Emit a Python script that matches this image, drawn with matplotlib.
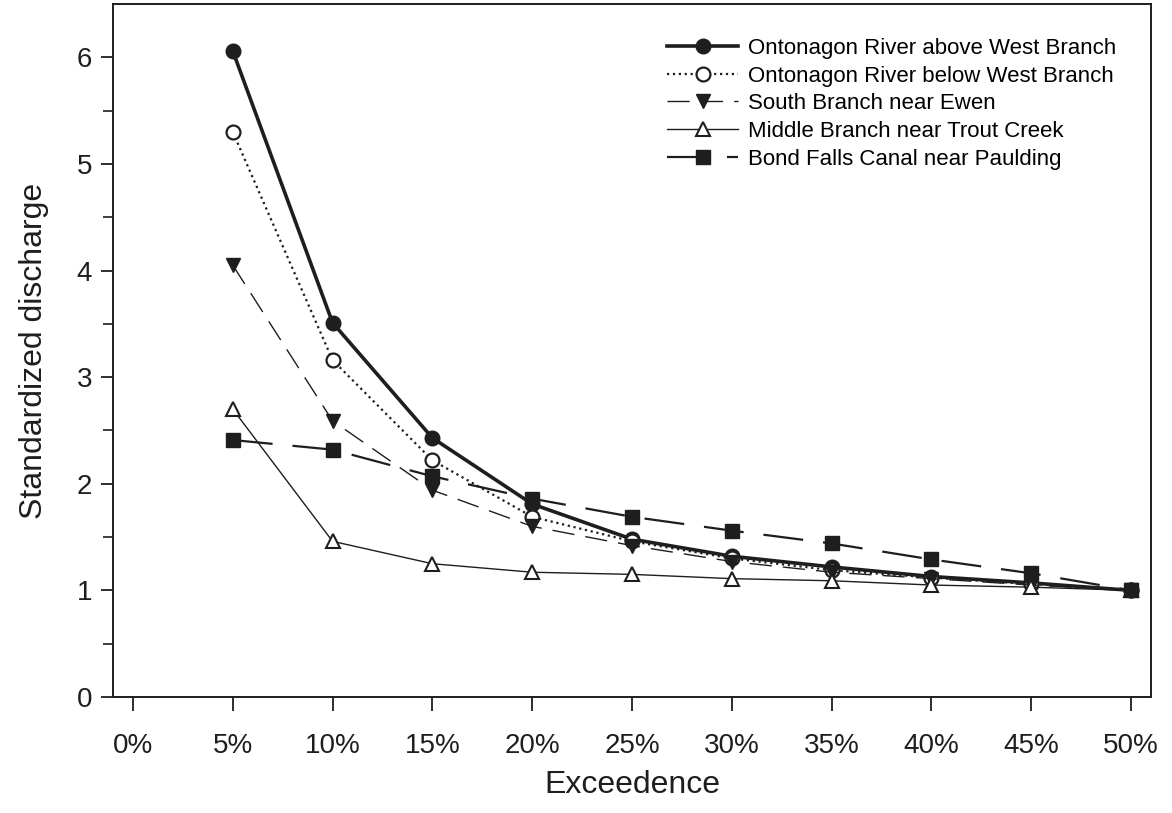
import matplotlib.pyplot as plt
import numpy as np

plt.rcParams['font.family'] = ['Liberation Sans', 'DejaVu Sans']

# Exceedence probability (percent) and standardized discharge per gage
exceedence = [5, 10, 15, 20, 25, 30, 35, 40, 45, 50]
above_west = [6.06, 3.51, 2.43, 1.81, 1.48, 1.32, 1.22, 1.13, 1.07, 1.00]
below_west = [5.30, 3.16, 2.22, 1.69, 1.46, 1.30, 1.19, 1.12, 1.06, 1.00]
south_ewen = [4.05, 2.59, 1.94, 1.60, 1.42, 1.27, 1.17, 1.11, 1.05, 1.00]
middle_trout = [2.70, 1.46, 1.25, 1.17, 1.15, 1.11, 1.09, 1.05, 1.03, 1.00]
bond_falls = [2.41, 2.32, 2.07, 1.86, 1.69, 1.56, 1.44, 1.29, 1.16, 1.00]

series_labels = ['Ontonagon River above West Branch',
                 'Ontonagon River below West Branch',
                 'South Branch near Ewen',
                 'Middle Branch near Trout Creek',
                 'Bond Falls Canal near Paulding']
x_ticks = np.arange(0, 51, 5)
x_tick_labels = [str(v) + '%' for v in x_ticks]

ink = '#1e1e1e'

fig = plt.figure(figsize=(11.72, 8.13), dpi=100)
ax = fig.add_axes([0.0964, 0.1427, 0.8857, 0.8524])

ax.plot(exceedence, above_west, '-', color=ink, lw=2.6, marker='o', ms=10.5,
        mfc=ink, mec=ink, label=series_labels[0])
ax.plot(exceedence, below_west, ':', color=ink, lw=1.6, marker='o', ms=10,
        mfc='white', mec=ink, mew=1.6, label=series_labels[1])
ax.plot(exceedence, south_ewen, color=ink, lw=1.0, dashes=(16, 8), marker='v',
        ms=10.5, mfc=ink, mec=ink, label=series_labels[2])
ax.plot(exceedence, middle_trout, '-', color=ink, lw=1.0, marker='^', ms=10.5,
        mfc='white', mec=ink, mew=1.5, label=series_labels[3])
ax.plot(exceedence, bond_falls, color=ink, lw=1.6, dashes=(18, 9), marker='s',
        ms=9.5, mfc=ink, mec=ink, label=series_labels[4])

# Axis limits and ticks
ax.set_xlim(-1, 51)
ax.set_ylim(0, 6.5)
ax.set_xticks(x_ticks)
ax.set_xticklabels(x_tick_labels)
ax.set_yticks(np.arange(0, 7, 1))
ax.set_yticks(np.arange(0.5, 6.5, 1), minor=True)
ax.tick_params(axis='x', which='major', direction='out', length=10, width=1.3,
               labelsize=20, colors=ink, pad=16)
ax.tick_params(axis='y', which='major', direction='out', length=9, width=1.3,
               labelsize=20, colors=ink, pad=6)
ax.tick_params(axis='y', which='minor', direction='out', length=7, width=1.2,
               colors=ink)
for side in ax.spines.values():
    side.set_linewidth(1.4)
    side.set_color(ink)

ax.set_xlabel('Exceedence', fontsize=23, color=ink, labelpad=8)
ax.set_ylabel('Standardized discharge', fontsize=23, color=ink, labelpad=20)

ax.legend(loc='upper left', bbox_to_anchor=(0.534, 0.951), frameon=False,
          fontsize=16, handlelength=3.2, handletextpad=0.45, labelspacing=0.3,
          borderaxespad=0, borderpad=0)

plt.savefig('out.png', dpi=100)
plt.close()
